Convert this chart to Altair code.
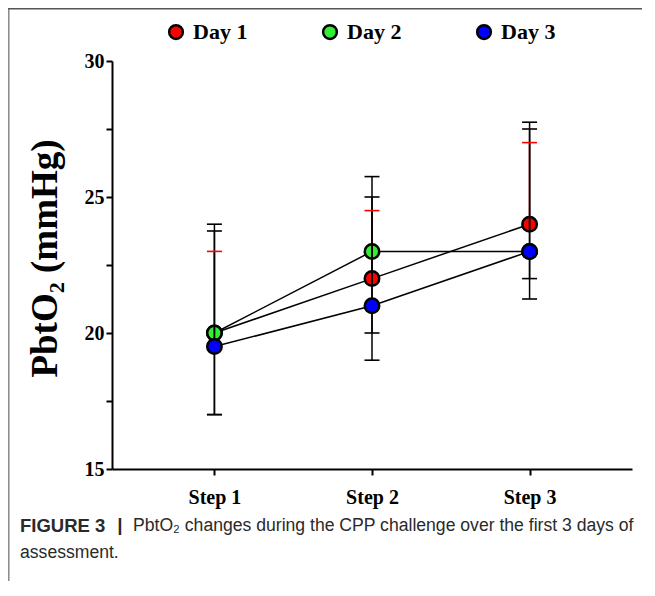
import altair as alt
import pandas as pd

steps = ["Step 1", "Step 2", "Step 3"]
days = ["Day 1", "Day 2", "Day 3"]
day1_mean = [20, 22, 24]
day2_mean = [20, 23, 23]
day3_mean = [19.5, 21, 23]
day1_upper = [23, 24.5, 27]
day2_upper = [24, 25.75, 27.75]
day3_upper = [23.75, 25, 27.5]
day1_lower = [20, 22, 24]
day2_lower = [17, 20, 22]
day3_lower = [17, 19, 21.25]
fill_colors = ["#ff0000", "#33ee33", "#0000ff"]
point_strokes = [2.5, 2.5, 1.0]
y_ticks = [15, 17.5, 20, 22.5, 25, 27.5, 30]
y_title = "PbtO\u2082 (mmHg)"
caption_bold = ["FIGURE 3"]
caption_sep = ["|"]
caption_line1 = ["PbtO\u2082 changes during the CPP challenge over the first 3 days of"]
caption_line2 = ["assessment."]

rows = []
for d, m, u, l in zip(days, [day1_mean, day2_mean, day3_mean],
                      [day1_upper, day2_upper, day3_upper],
                      [day1_lower, day2_lower, day3_lower]):
    for s, mi, ui, li in zip(steps, m, u, l):
        rows.append(dict(day=d, step=s, mean=mi, upper=ui, lower=li))
df = pd.DataFrame(rows)

caps = []
for r in rows:
    caps.append(dict(day=r["day"], step=r["step"], v=r["upper"]))
    if r["lower"] < r["mean"]:
        caps.append(dict(day=r["day"], step=r["step"], v=r["lower"]))
caps_df = pd.DataFrame(caps)

serif = "Liberation Serif"
x_enc = alt.X("step:N", sort=steps,
              scale=alt.Scale(type="point", domain=steps, padding=0.65),
              axis=alt.Axis(title=None, labelAngle=0, labelFont=serif, labelFontWeight="bold",
                            labelFontSize=20, labelColor="black", labelPadding=12,
                            domainColor="black", domainWidth=2, tickColor="black",
                            tickWidth=2, tickSize=6, grid=False))
y_scale = alt.Scale(domain=[15, 30], nice=False, zero=False)
y_axis = alt.Axis(title=y_title, values=y_ticks,
                  labelExpr="datum.value % 5 == 0 ? datum.label : ''",
                  labelFont=serif, labelFontWeight="bold", labelFontSize=20,
                  labelColor="black", labelPadding=2,
                  titleFont=serif, titleFontWeight="bold", titleFontSize=37,
                  titleColor="black", titlePadding=20, titleY=197,
                  domainColor="black", domainWidth=2, tickColor="black",
                  tickWidth=2, tickSize=6, grid=False)

base = alt.Chart(df)

lines = base.mark_line(color="black", strokeWidth=1.5).encode(
    x=x_enc, y=alt.Y("mean:Q", scale=y_scale, axis=y_axis), detail="day:N")

fill_enc = alt.Fill("day:N", scale=alt.Scale(domain=days, range=fill_colors),
                    legend=alt.Legend(title=None, symbolStrokeColor="black",
                                      symbolStrokeWidth=2.5))
sw_enc = alt.StrokeWidth("day:N", scale=alt.Scale(domain=days, range=point_strokes),
                         legend=None)

points_a = base.mark_circle(size=210, stroke="black", opacity=1).encode(
    x=x_enc, y=alt.Y("mean:Q", scale=y_scale), fill=fill_enc, strokeWidth=sw_enc,
    order=alt.Order("day:N")
).transform_filter(alt.datum.day != "Day 3")

points_b = base.mark_circle(size=210, stroke="black", opacity=1).encode(
    x=x_enc, y=alt.Y("mean:Q", scale=y_scale), fill=fill_enc, strokeWidth=sw_enc
).transform_filter(alt.datum.day == "Day 3")

bar_color = alt.condition(alt.datum.day == "Day 1", alt.value("#ff0000"), alt.value("#000000"))

bars = base.mark_rule(strokeWidth=1.5).encode(
    x=x_enc, y=alt.Y("lower:Q", scale=y_scale), y2="upper:Q", color=bar_color)

cap_marks = alt.Chart(caps_df).mark_tick(size=15, thickness=1.6, opacity=1).encode(
    x=x_enc, y=alt.Y("v:Q", scale=y_scale), color=bar_color)

frame_v = alt.Chart(pd.DataFrame({"a": [0]})).mark_rule(color="#888888", strokeWidth=1.5).encode(
    x=alt.value(-103.2), y=alt.value(-53), y2=alt.value(530))
frame_h = alt.Chart(pd.DataFrame({"a": [0]})).mark_rule(color="#555555", strokeWidth=2).encode(
    x=alt.value(-104), x2=alt.value(540), y=alt.value(-52.5))

cap_font = "Liberation Sans"
cap_a = alt.Chart(pd.DataFrame({"t": caption_bold})).mark_text(
    font=cap_font, fontSize=18.5, fontWeight="bold", color="#2a2a2a", align="left",
    baseline="middle").encode(text="t:N", x=alt.value(-92), y=alt.value(465))
cap_s = alt.Chart(pd.DataFrame({"t": caption_sep})).mark_text(
    font=cap_font, fontSize=19, fontWeight="bold", color="#2a2a2a", align="center",
    baseline="middle").encode(text="t:N", x=alt.value(8), y=alt.value(464))
cap_b = alt.Chart(pd.DataFrame({"t": caption_line1})).mark_text(
    font=cap_font, fontSize=17.6, color="#2a2a2a", align="left",
    baseline="middle").encode(text="t:N", x=alt.value(21), y=alt.value(465))
cap_c = alt.Chart(pd.DataFrame({"t": caption_line2})).mark_text(
    font=cap_font, fontSize=17.6, color="#2a2a2a", align="left",
    baseline="middle").encode(text="t:N", x=alt.value(-92), y=alt.value(492))

chart = alt.layer(lines, points_a, bars, cap_marks, points_b,
                  frame_v, frame_h, cap_a, cap_s, cap_b, cap_c).properties(
    width=520, height=408,
    autosize=alt.AutoSizeParams(type="none"),
    padding={"left": 104, "top": 53, "right": 10, "bottom": 112},
).configure_view(stroke=None).configure_legend(
    orient="none", legendX=53, legendY=-40, direction="horizontal",
    symbolType="circle", symbolSize=190, symbolStrokeColor="black",
    symbolStrokeWidth=2.5,
    labelFont=serif, labelFontWeight="bold", labelFontSize=22, labelColor="black",
    labelOffset=6, columnPadding=70, padding=0
)

chart.save("out.html", embed_options={"renderer": "svg", "actions": False})
